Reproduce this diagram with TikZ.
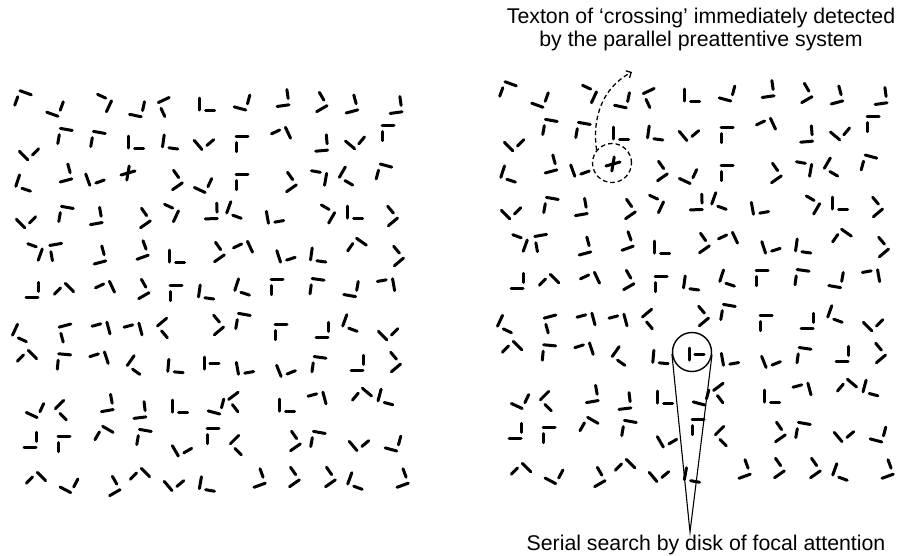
\documentclass[tikz,border=0pt]{standalone}
\usepackage{fontspec}
\setmainfont{Liberation Sans}
\usetikzlibrary{arrows.meta,calc}

% x/y/angle of every corner texton, row by row
\newcommand{\textonfield}{%
  23/100/-110, 55/107/70, 102/103/155, 137/108/78, 167/107/-65, 207/104/0, 242/101/75, 282/98/98, 318/102/120, 350/104/105, 395/105/98,
  29/150/45, 65/137/-100, 98/140/-100, 136/142/0, 171/142/-8, 204/140/40, 242/144/-90, 281/136/205, 321/143/95, 355/139/50, 388/133/-90,
  25/183/-18, 64/173/105, 95/177/20, 173/180/125, 203/183/65, 242/182/-90, 287/182/125, 318/178/170, 349/176/-30, 384/173/-105,
  26/218/45, 66/215/-100, 95/216/100, 141/218/125, 169/213/155, 211/211/92, 236/210/-20, 275/216/10, 325/214/150, 355/212/0, 388/216/130,
  33/252/160, 57/252/-80, 98/255/105, 140/250/110, 177/256/0, 215/252/125, 243/250/205, 286/254/18, 319/255/-8, 357/248/235, 394/256/130,
  32/290/90, 64/293/225, 105/290/205, 140/289/120, 176/293/-90, 207/292/-8, 244/287/-18, 277/287/-90, 317/287/-98, 351/288/80, 386/286/190,
  22/333/-25, 67/333/-75, 101/330/195, 133/331/195, 167/328/-50, 214/325/130, 243/322/-100, 281/332/-90, 322/330/90, 352/323/-20, 388/330/45,
  27/360/225, 64/362/-95, 99/360/198, 137/365/-35, 176/366/-5, 245/367/10, 286/368/22, 319/365/-98, 357/363/90, 391/362/130,
  35/408/65, 65/410/-45, 106/403/100, 139/410/97, 180/406/0, 216/405/75, 238/402/-53, 287/405/0, 317/400/195, 362/398/230, 387/397/-15,
  30/440/90, 64/444/-90, 104/436/240, 144/438/-100, 182/447/30, 213/436/-90, 240/445/-45, 291/441/125, 318/440/-100, 359/441/40, 393/442/75,
  36/482/225, 69/483/62, 111/486/120, 140/478/225, 174/481/40, 208/484/-10, 257/478/110, 290/477/125, 326/477/125, 357/481/-20, 400/478/110}

\newcommand{\texton}[3]{%
  \draw[glyph, shift={(#1,#2)}, rotate=#3]
    (-7.7pt,-6pt) -- (-7.7pt,6pt) (-1.3pt,-6pt) -- (7.7pt,-6pt);}
\newcommand{\textoncross}[2]{%
  \draw[glyph, shift={(#1,#2)}] (-7pt,-2pt) -- (7pt,2pt) (1.2pt,7pt) -- (-1.2pt,-7pt);}
\newcommand{\textontee}[2]{%
  \draw[glyph, shift={(#1,#2)}] (-8pt,-6pt) -- (-8pt,6pt) (-2.2pt,0pt) -- (7pt,0pt);}

\begin{document}
\begin{tikzpicture}[
      x=1pt, y=-1pt,
      glyph/.style={line width=3pt, line cap=round},
      ring/.style={circle, draw, dash pattern=on 4.5pt off 3pt, line width=1.3pt, minimum size=39pt, inner sep=0pt},
      focus/.style={circle, draw, line width=1.4pt, minimum size=39pt, inner sep=0pt},
      cone/.style={line width=1.1pt},
      caption/.style={font=\fontsize{21.3pt}{23pt}\selectfont, inner sep=0pt, align=center},
      pointer/.style={line width=1.3pt, dash pattern=on 4.5pt off 3pt, -{Straight Barb[length=4pt,width=8pt]}}
    ]
    \useasboundingbox (0,0) rectangle (902,555);

    % left field
    \foreach \gx/\gy/\ga in \textonfield {\texton{\gx}{\gy}{\ga}}
    \textoncross{128}{173}
    \textontee{212}{363}

    % right field, same textons
    \begin{scope}[shift={(485,-9)}]
      \foreach \gx/\gy/\ga in \textonfield {\texton{\gx}{\gy}{\ga}}
      \textoncross{128}{173}
      \textontee{212}{363}
    \end{scope}

    \node[ring] (crossring) at (612,163) {};
    \node[focus] (focusdisk) at (692,352) {};
    \coordinate (tip) at (632,72);
    \coordinate (apex) at (690,532);

    \draw[pointer] (crossring.140) .. controls (592,118) and (602,88) .. (tip);
    \draw[cone] (tangent cs:node=focusdisk,point={(apex)},solution=1) -- (apex)
      -- (tangent cs:node=focusdisk,point={(apex)},solution=2);

    \node[caption, anchor=north] (crosslabel) at (701,8)
      {Texton of `crossing' immediately detected\\by the parallel preattentive system};
    \node[caption, anchor=base] (searchlabel) at (706,550) {Serial search by disk of focal attention};
  \end{tikzpicture}
\end{document}
